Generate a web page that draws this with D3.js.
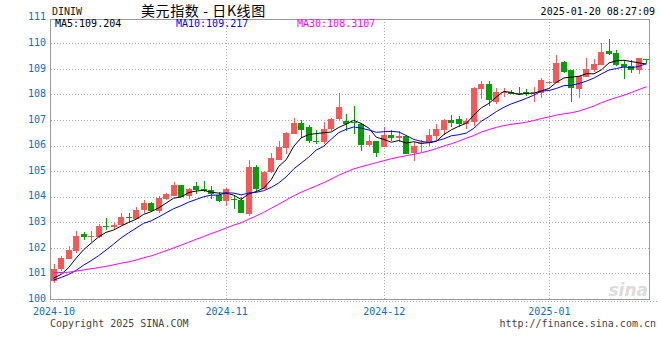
<!DOCTYPE html>
<html><head><meta charset="utf-8">
<script src="https://cdn.jsdelivr.net/npm/d3@7"></script>
<style>body{margin:0;background:#fff} svg{display:block}</style>
</head><body><svg id="c" width="660" height="360"></svg>
<script>
// ---------- data ----------
const symbol = "DINIW";
const title = "美元指数 - 日K线图";
const timestamp = "2025-01-20 08:27:09";
const monthLabels = ["2024-10", "2024-11", "2024-12", "2025-01"];
const monthStartIdx = [0, 23, 44, 66];
const yTicks = [100, 101, 102, 103, 104, 105, 106, 107, 108, 109, 110, 111];
const maNames = ["MA5", "MA10", "MA30"];
const maPeriods = [5, 10, 30];
const maLegendValues = ["109.204", "109.217", "108.3107"];

const opens = [100.72,101.16,101.58,101.89,102.54,102.43,102.41,102.85,102.80,102.89,
  103.19,103.14,103.48,103.77,103.44,103.92,104.03,104.45,104.03,104.43,
  104.30,104.26,104.07,103.85,103.91,103.87,103.34,105.16,104.31,104.95,
  105.44,105.92,106.46,106.90,106.73,106.18,106.15,106.64,107.03,106.97,
  106.93,106.84,106.02,106.18,105.96,106.41,106.31,106.37,105.72,106.06,
  106.11,106.37,106.61,107.00,107.03,106.83,106.93,108.21,108.41,107.69,
  108.04,108.08,108.07,108.10,108.06,108.04,108.46,108.46,109.27,108.96,
  108.22,108.69,108.96,109.16,109.70,109.62,109.20,109.11,108.94,109.37];
const highs = [101.36,101.68,102.07,102.66,102.62,102.66,102.93,103.17,102.98,103.38,
  103.35,103.59,103.87,103.80,104.03,104.16,104.59,104.47,104.34,104.58,
  104.61,104.42,104.20,104.33,104.07,104.00,105.44,105.24,105.01,105.70,
  106.18,106.52,107.09,106.99,106.80,106.61,106.93,107.09,108.07,107.23,
  107.56,106.90,106.41,106.19,106.71,106.60,106.56,106.41,106.15,106.22,
  106.64,106.86,107.04,107.20,107.16,107.07,108.30,108.53,108.53,108.24,
  108.26,108.17,108.30,108.20,108.30,108.66,108.52,109.55,109.30,108.97,
  108.73,109.41,109.37,110.00,110.17,109.74,109.35,109.35,109.41,109.38];
const lows = [100.64,101.11,101.56,101.81,102.31,102.24,102.40,102.70,102.73,102.88,
  102.96,103.12,103.37,103.40,103.37,103.87,104.02,103.99,103.92,104.09,
  104.17,103.91,103.78,103.65,103.52,103.37,103.26,104.17,104.30,104.94,
  105.43,105.67,106.45,106.31,106.11,106.06,106.05,106.58,106.97,106.57,
  106.45,105.80,106.00,105.57,105.93,106.18,106.15,105.67,105.40,105.76,
  105.98,106.22,106.41,106.71,106.74,106.65,106.78,107.81,107.55,107.61,
  107.91,108.00,107.98,107.94,107.72,107.85,108.42,108.44,108.85,107.72,
  107.85,108.68,108.88,109.15,109.54,109.11,108.59,108.83,108.80,109.22];
const closes = [101.17,101.62,101.92,102.46,102.44,102.46,102.85,102.82,102.91,103.22,
  103.16,103.48,103.77,103.44,103.96,104.09,104.45,104.00,104.31,104.26,
  104.22,104.09,103.83,104.30,103.87,103.38,105.16,104.30,104.95,105.53,
  105.96,106.50,106.90,106.62,106.18,106.14,106.66,107.05,107.51,106.84,
  106.88,106.02,106.18,105.72,106.41,106.31,106.37,105.68,105.98,106.11,
  106.41,106.65,107.00,106.90,106.83,106.97,108.26,108.41,107.78,108.08,
  108.08,108.02,108.02,108.02,108.08,108.55,108.49,109.22,108.88,108.24,
  108.72,108.99,109.20,109.66,109.58,109.16,109.08,108.94,109.41,109.34];
// closes before the visible window (estimated), used only to seed the moving averages
const priorCloses = [101.4,101.6,101.2,101.0,101.1,101.5,101.3,101.2,101.3,
  101.6,101.4,101.1,101.2,100.9,101.0,101.2,100.8,100.9,100.7,101.1,
  100.6,100.7,100.9,100.4,100.7,100.9,100.6,100.6,100.8];
const copyrightText = "Copyright 2025 SINA.COM";
const urlText = "http://finance.sina.com.cn";

// ---------- drawing ----------
const svg = d3.select("#c");
const L = 50, R = 650, T = 19, B = 299;
const mono = "'DejaVu Sans Mono', monospace";
const blueTxt = "#0a6fc2";
const upColor = "#ff5555", downColor = "#00a000";
const maColors = ["#000000", "#0000ff", "#ff00ff"];
const gridColor = "#a8a8a8";

const n = closes.length;
const x = d3.scaleLinear().domain([-0.4, n - 0.6]).range([L + 0.5, R - 0.5]);
const y = d3.scaleLinear().domain([100, 111]).range([B, 17.7]);
const px = v => Math.round(v) + 0.5;

// watermark
svg.append("text").attr("x", 648).attr("y", 296).attr("text-anchor", "end")
  .attr("font-family", "'DejaVu Sans', sans-serif").attr("font-size", 17)
  .attr("font-weight", "bold").attr("font-style", "italic")
  .attr("fill", "#dcdcdc").text("sina");

// horizontal grid
svg.append("g").selectAll("line").data(yTicks.filter(v => v > 100 && v < 111)).join("line")
  .attr("x1", L + 1).attr("x2", R)
  .attr("y1", d => px(y(d))).attr("y2", d => px(y(d)))
  .attr("stroke", gridColor).attr("stroke-dasharray", "1,2").attr("shape-rendering", "crispEdges");
// vertical month grid
svg.append("g").selectAll("line").data(monthStartIdx.slice(1)).join("line")
  .attr("x1", d => px(x(d))).attr("x2", d => px(x(d)))
  .attr("y1", T).attr("y2", B)
  .attr("stroke", gridColor).attr("stroke-dasharray", "1,2").attr("shape-rendering", "crispEdges");
// dotted line under the plot
svg.append("line").attr("x1", L).attr("x2", 657).attr("y1", B + 2.5).attr("y2", B + 2.5)
  .attr("stroke", gridColor).attr("stroke-dasharray", "1,2").attr("shape-rendering", "crispEdges");

// frame
svg.append("path")
  .attr("d", `M${L + 0.5},${T + 0.5}H${R - 0.5}V${B + 0.5}H${L + 0.5}Z`)
  .attr("fill", "none").attr("stroke", "#999").attr("shape-rendering", "crispEdges");

// candles
const idx = d3.range(n);
const cg = svg.append("g").attr("shape-rendering", "crispEdges");
cg.selectAll("line").data(idx).join("line")
  .attr("x1", i => px(x(i))).attr("x2", i => px(x(i)))
  .attr("y1", i => y(highs[i])).attr("y2", i => y(lows[i]))
  .attr("stroke", i => closes[i] >= opens[i] ? upColor : downColor);
cg.selectAll("rect").data(idx).join("rect")
  .attr("x", i => Math.round(x(i)) - 3).attr("width", 6)
  .attr("y", i => y(Math.max(opens[i], closes[i])))
  .attr("height", i => Math.max(1, Math.abs(y(opens[i]) - y(closes[i]))))
  .attr("fill", i => closes[i] >= opens[i] ? upColor : downColor);

// moving averages
const all = priorCloses.concat(closes);
const off = priorCloses.length;
maPeriods.forEach((p, k) => {
  const vals = idx.map(i => d3.mean(all.slice(off + i - p + 1, off + i + 1)));
  svg.append("path")
    .attr("d", d3.line().x((d, i) => x(i)).y(d => y(d))(vals))
    .attr("fill", "none").attr("stroke", maColors[k]).attr("stroke-width", 1);
});

// axes
const ay = svg.append("g").attr("transform", `translate(${L},0)`)
  .call(d3.axisLeft(y).tickValues(yTicks).tickSize(0).tickPadding(4).tickFormat(d3.format("d")));
ay.select(".domain").remove();
ay.selectAll("text").attr("font-family", mono).attr("font-size", 10).attr("fill", blueTxt).attr("dy", "0.22em");

const ax = svg.append("g").attr("transform", `translate(0,${B})`)
  .call(d3.axisBottom(x).tickValues(monthStartIdx).tickSize(0).tickPadding(9)
    .tickFormat((d, i) => monthLabels[i]));
ax.select(".domain").remove();
ax.selectAll("text").attr("font-family", mono).attr("font-size", 10).attr("fill", blueTxt);

// header
svg.append("text").attr("x", 52).attr("y", 15).attr("font-family", mono).attr("font-size", 10)
  .attr("fill", "#222").text(symbol);
svg.append("text").attr("x", 141).attr("y", 15.5).attr("font-family", "'Noto Sans CJK SC', sans-serif")
  .attr("font-size", 14).attr("letter-spacing", 0.6).attr("fill", "#000")
  .attr("style", "white-space:pre").text(title);
svg.append("text").attr("x", 655).attr("y", 15).attr("text-anchor", "end").attr("font-family", mono)
  .attr("font-size", 10).attr("fill", "#000").text(timestamp);

// MA legend
const legX = [55, 176, 297];
maNames.forEach((nm, k) => {
  svg.append("text").attr("x", legX[k]).attr("y", 27).attr("font-family", mono).attr("font-size", 10)
    .attr("fill", maColors[k]).text(nm + ":" + maLegendValues[k]);
});

// footer
svg.append("text").attr("x", 50).attr("y", 327).attr("font-family", mono).attr("font-size", 10)
  .attr("fill", "#444").text(copyrightText);
svg.append("text").attr("x", 656).attr("y", 327).attr("text-anchor", "end").attr("font-family", mono)
  .attr("font-size", 10).attr("fill", "#444").text(urlText);
</script></body></html>
